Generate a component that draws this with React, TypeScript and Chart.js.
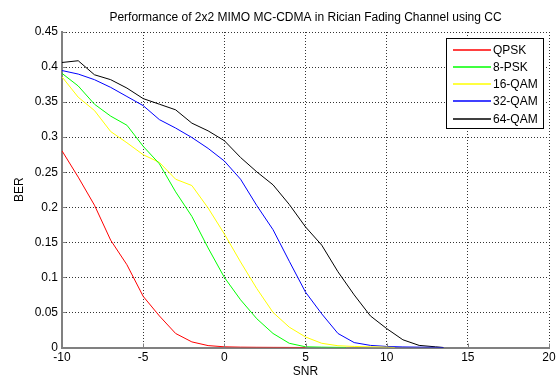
import React, { useEffect, useRef } from "react";
import { Chart, registerables } from "chart.js";

Chart.register(...registerables);

const titleText = "Performance of 2x2 MIMO MC-CDMA in Rician Fading Channel using CC";
const xLabel = "SNR";
const yLabel = "BER";

const xTicks = [-10, -5, 0, 5, 10, 15, 20];
const yTicks = [0, 0.05, 0.1, 0.15, 0.2, 0.25, 0.3, 0.35, 0.4, 0.45];

const seriesNames = ["QPSK", "8-PSK", "16-QAM", "32-QAM", "64-QAM"];
const seriesColors = ["#ff0000", "#00ff00", "#ffff00", "#0000ff", "#000000"];

const qpskSnr = [-10, -9, -8, -7, -6, -5, -4, -3, -2, -1, 0, 1, 2, 3, 4, 5];
const qpskBer = [0.2805, 0.243, 0.203, 0.153, 0.118, 0.073, 0.045, 0.02, 0.008, 0.0027, 0.001, 0.0005, 0.0003, 0.0002, 0.0001, 0];

const psk8Snr = [-10, -9, -8, -7, -6, -5, -4, -3, -2, -1, 0, 1, 2, 3, 4, 5, 6, 7, 7.5];
const psk8Ber = [0.391, 0.373, 0.347, 0.33, 0.317, 0.287, 0.262, 0.222, 0.187, 0.142, 0.1, 0.068, 0.041, 0.02, 0.006, 0.001, 0.0005, 0.0002, 0];

const qam16Snr = [-10, -9, -8, -7, -6, -5, -4, -3, -2, -1, 0, 1, 2, 3, 4, 5, 6, 7, 8, 9, 10, 10.5];
const qam16Ber = [0.386, 0.357, 0.338, 0.308, 0.292, 0.275, 0.264, 0.24, 0.231, 0.199, 0.162, 0.122, 0.084, 0.05, 0.029, 0.015, 0.006, 0.0025, 0.0015, 0.001, 0.0005, 0];

const qam32Snr = [-10, -9, -8, -7, -6, -5, -4, -3, -2, -1, 0, 1, 2, 3, 4, 5, 6, 7, 8, 9, 10, 11, 12, 13, 13.5];
const qam32Ber = [0.395, 0.39, 0.382, 0.371, 0.358, 0.345, 0.325, 0.313, 0.2995, 0.284, 0.266, 0.24, 0.2024, 0.168, 0.123, 0.079, 0.048, 0.02, 0.007, 0.003, 0.0015, 0.0008, 0.0005, 0.0002, 0];

const qam64Snr = [-10, -9, -8, -7, -6, -5, -4, -3, -2, -1, 0, 1, 2, 3, 4, 5, 6, 7, 8, 9, 10, 11, 12, 13, 13.5];
const qam64Ber = [0.4065, 0.409, 0.389, 0.382, 0.37, 0.355, 0.347, 0.339, 0.32, 0.309, 0.295, 0.271, 0.2505, 0.232, 0.204, 0.172, 0.146, 0.108, 0.075, 0.045, 0.027, 0.011, 0.003, 0.001, 0];

const seriesX = [qpskSnr, psk8Snr, qam16Snr, qam32Snr, qam64Snr];
const seriesY = [qpskBer, psk8Ber, qam16Ber, qam32Ber, qam64Ber];

const FONT = "'Liberation Sans', Arial, Helvetica, sans-serif";

const innerTicks = {
  id: "innerTicks",
  afterDatasetsDraw(chart: any) {
    const ctx = chart.ctx;
    const { left, bottom } = chart.chartArea;
    const xs = chart.scales.x;
    const ys = chart.scales.y;
    ctx.save();
    ctx.fillStyle = "#808080";
    xTicks.forEach((v) => {
      const px = Math.round(xs.getPixelForValue(v));
      ctx.fillRect(px, bottom - 4, 1, 4);
    });
    yTicks.forEach((v) => {
      const py = Math.round(ys.getPixelForValue(v));
      ctx.fillRect(left, py, 4, 1);
    });
    ctx.restore();
  },
};

const boxLegend = {
  id: "boxLegend",
  afterDraw(chart: any) {
    const ctx = chart.ctx;
    const left = 446;
    const top = 38;
    const w = 98;
    const rowH = 17.3;
    const h = 91;
    ctx.save();
    ctx.setLineDash([]);
    ctx.globalAlpha = 1;
    ctx.fillStyle = "#ffffff";
    ctx.fillRect(left, top, w, h);
    ctx.fillStyle = "#000000";
    ctx.fillRect(left, top, w, 1);
    ctx.fillRect(left, top + h - 1, w, 1);
    ctx.fillRect(left, top, 1, h);
    ctx.fillRect(left + w - 1, top, 1, h);
    ctx.font = "12px " + FONT;
    ctx.textBaseline = "middle";
    ctx.textAlign = "left";
    seriesNames.forEach((name, i) => {
      const y = Math.round(top + 10.5 + i * rowH);
      ctx.globalAlpha = 0.75;
      ctx.fillStyle = seriesColors[i];
      ctx.fillRect(453, y, 38, 2);
      ctx.globalAlpha = 1;
      ctx.fillStyle = "#000000";
      ctx.fillText(name, 493, y + 1.5);
    });
    ctx.restore();
  },
};

export default function App() {
  const ref = useRef<HTMLCanvasElement | null>(null);
  useEffect(() => {
    document.body.style.margin = "0";
    const canvas = ref.current;
    if (!canvas) return;
    const datasets = seriesNames.map((name, i) => ({
      label: name,
      data: seriesX[i].map((x, j) => ({ x, y: seriesY[i][j] })),
      borderColor: seriesColors[i],
      backgroundColor: seriesColors[i],
      borderWidth: 1,
      pointRadius: 0,
      tension: 0,
      fill: false,
    }));
    const gridStyle = {
      color: "#333333",
      lineWidth: 1,
      drawTicks: false,
    };
    const chart = new Chart(canvas, {
      type: "line",
      data: { datasets },
      options: {
        animation: false,
        responsive: false,
        maintainAspectRatio: false,
        layout: { padding: { left: 0, right: 10, top: 0, bottom: 0 } },
        plugins: {
          legend: { display: false },
          tooltip: { enabled: false },
          title: {
            display: true,
            text: titleText,
            fullSize: false,
            color: "#000000",
            font: { family: FONT, size: 12, weight: "normal" },
            padding: { top: 10, bottom: 7.6 },
          },
        },
        scales: {
          x: {
            type: "linear",
            min: -10,
            max: 20,
            afterBuildTicks: (s: any) => {
              s.ticks = xTicks.map((v) => ({ value: v }));
            },
            afterFit: (s: any) => {
              s.height = 31.5;
            },
            ticks: {
              color: "#000000",
              font: { family: FONT, size: 12 },
              padding: 3,
              maxRotation: 0,
              autoSkip: false,
              callback: (v: any) => String(v),
            },
            grid: { ...gridStyle },
            border: { display: true, color: "#808080", width: 2, dash: [1, 2] as any },
            title: {
              display: true,
              text: xLabel,
              color: "#000000",
              font: { family: FONT, size: 12 },
              padding: { top: 0, bottom: 0 },
            },
          },
          y: {
            type: "linear",
            min: 0,
            max: 0.45,
            afterBuildTicks: (s: any) => {
              s.ticks = yTicks.map((v) => ({ value: v }));
            },
            afterFit: (s: any) => {
              s.width = 62;
            },
            ticks: {
              color: "#000000",
              font: { family: FONT, size: 12 },
              padding: 4,
              autoSkip: false,
              callback: (v: any) => String(parseFloat(Number(v).toFixed(2))),
            },
            grid: { ...gridStyle },
            border: { display: true, color: "#808080", width: 2, dash: [1, 2] as any },
            title: {
              display: true,
              text: yLabel,
              color: "#000000",
              font: { family: FONT, size: 12 },
              padding: { top: 12, bottom: 0 },
            },
          },
        },
      } as any,
      plugins: [innerTicks, boxLegend],
    });
    return () => chart.destroy();
  }, []);
  return (
    <div style={{ width: 559, height: 379, position: "relative", background: "#fff" }}>
      <canvas ref={ref} width={559} height={379} style={{ display: "block" }} />
    </div>
  );
}
